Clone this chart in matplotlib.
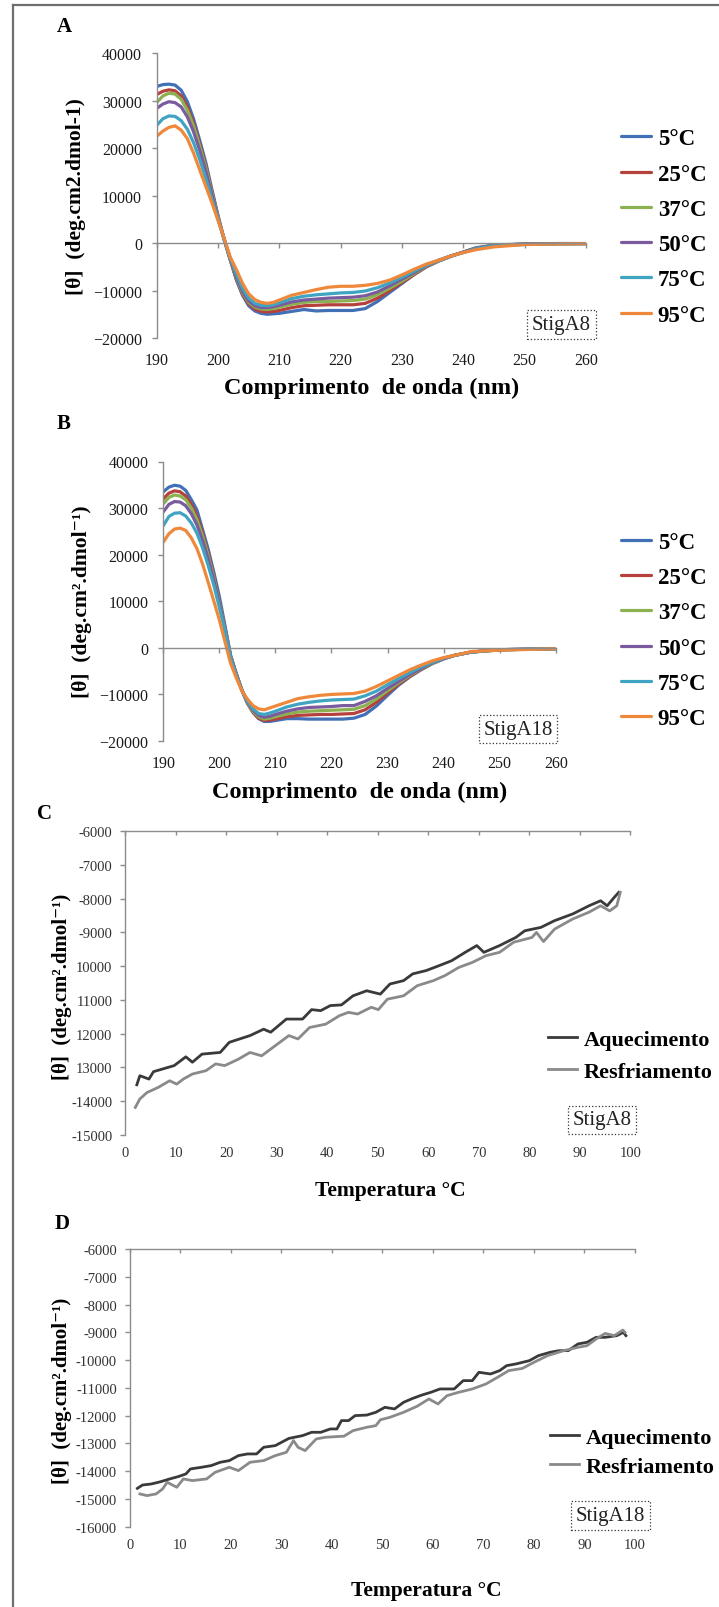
# CD spectra (A, B) and thermal melt curves (C, D) for StigA8 / StigA18
import matplotlib
matplotlib.use('Agg')
import matplotlib.pyplot as plt
from matplotlib.lines import Line2D

plt.rcParams['font.family'] = ['Liberation Serif', 'DejaVu Serif']

# ---- data ----
wl = [190, 191, 192, 193, 194, 195, 196, 197, 198, 199, 200, 201, 202, 203, 204,
      205, 206, 207, 208, 209, 210, 212, 214, 216, 218, 220, 222, 224, 226, 228,
      230, 232, 234, 236, 238, 240, 242, 245, 250, 255, 260]
temps = ['5°C', '25°C', '37°C', '50°C', '75°C', '95°C']
cd_colors = ['#4270b6', '#b5413d', '#8cb150', '#7a5b9d', '#3fa4c1', '#ef883a']

a8_5 = [33000, 33400, 33500, 33300, 32200, 29800, 26200, 21700, 17000, 11300, 5800, 700, -3600, -7800, -11000,
        -13200, -14300, -14800, -15000, -14900, -14800, -14400, -14000, -14300, -14200, -14200, -14200, -13800, -12300, -10400,
        -8500, -6600, -5000, -3800, -2800, -1900, -1000, -400, -200, -100, -100]
a8_25 = [31300, 32000, 32300, 32100, 31000, 28700, 25300, 21000, 16300, 10900, 5500, 800, -3500, -7600, -10800,
         -12800, -13900, -14400, -14500, -14400, -14200, -13600, -13200, -13100, -13000, -13000, -13000, -12700, -11600, -10000,
         -8300, -6600, -4900, -3700, -2700, -1900, -1100, -500, -200, -100, -100]
a8_37 = [29600, 31000, 31600, 31400, 30300, 28000, 24700, 20500, 15900, 10600, 5400, 800, -3400, -7400, -10500,
         -12500, -13500, -13900, -14000, -13800, -13500, -12900, -12500, -12300, -12300, -12200, -12100, -11800, -10900, -9500,
         -8000, -6400, -4800, -3700, -2700, -1900, -1100, -500, -200, -100, -100]
a8_50 = [28400, 29300, 29800, 29600, 28700, 26600, 23500, 19600, 15200, 10200, 5200, 800, -3300, -7200, -10200,
         -12200, -13200, -13600, -13600, -13400, -13100, -12400, -12000, -11800, -11600, -11500, -11400, -11100, -10300, -9000,
         -7600, -6200, -4700, -3600, -2700, -1900, -1100, -500, -200, -100, -100]
a8_75 = [24800, 26200, 26800, 26700, 25800, 24000, 21200, 17700, 13700, 9300, 4900, 800, -3200, -6600, -9600,
         -11600, -12700, -13100, -13200, -13000, -12600, -11700, -11200, -10900, -10700, -10500, -10400, -10100, -9400, -8400,
         -7200, -5900, -4600, -3600, -2700, -2000, -1200, -600, -300, -200, -100]
a8_95 = [22500, 23600, 24400, 24700, 23800, 22000, 19000, 15500, 12000, 8500, 4800, 1000, -3000, -5600, -8500,
         -10700, -11900, -12500, -12700, -12500, -12000, -11000, -10400, -9800, -9300, -9100, -9100, -8900, -8500, -7800,
         -6700, -5500, -4400, -3600, -2700, -2000, -1400, -800, -300, -200, -100]

a18_5 = [33500, 34500, 34900, 34700, 33800, 31800, 29600, 25400, 21200, 16300, 11000, 4800, -1600, -5500, -9000,
         -11800, -13800, -15200, -15800, -15800, -15600, -15200, -15200, -15300, -15300, -15300, -15300, -15100, -14300, -12500,
         -10200, -8000, -6200, -4700, -3400, -2400, -1600, -900, -400, -300, -200]
a18_25 = [32000, 33200, 33700, 33500, 32600, 30800, 28300, 24600, 20300, 15500, 9900, 4300, -1700, -5500, -9000,
          -11900, -13900, -15100, -15600, -15500, -15300, -14800, -14500, -14400, -14300, -14300, -14200, -14100, -13300, -11700,
          -9700, -7800, -6100, -4600, -3300, -2300, -1600, -900, -400, -300, -200]
a18_37 = [30900, 32300, 32800, 32600, 31800, 30000, 27500, 24000, 19800, 15100, 9700, 4200, -1800, -5600, -9000,
          -11800, -13700, -14800, -15300, -15100, -14800, -14200, -13800, -13600, -13500, -13400, -13300, -13200, -12400, -11000,
          -9200, -7500, -5900, -4500, -3300, -2300, -1600, -900, -400, -300, -200]
a18_50 = [29200, 30800, 31400, 31300, 30500, 28800, 26400, 23100, 19100, 14600, 9400, 4100, -1900, -5700, -9000,
          -11600, -13400, -14500, -14900, -14700, -14300, -13600, -13100, -12800, -12700, -12600, -12400, -12400, -11500, -10300,
          -8700, -7200, -5700, -4400, -3200, -2300, -1600, -900, -400, -300, -200]
a18_75 = [26200, 28200, 28900, 29000, 28300, 26800, 24600, 21500, 17700, 13500, 8700, 3800, -2200, -5900, -9100,
          -11400, -13100, -14100, -14300, -14000, -13600, -12700, -12100, -11700, -11400, -11200, -11100, -11000, -10300, -9300,
          -7900, -6600, -5300, -4100, -3100, -2200, -1600, -900, -450, -300, -200]
a18_95 = [22700, 24500, 25500, 25700, 25200, 23600, 21300, 18000, 14100, 10100, 6000, 1300, -3300, -6400, -9200,
          -11000, -12400, -13100, -13300, -12900, -12500, -11700, -10900, -10500, -10200, -10000, -9900, -9800, -9300, -8300,
          -7100, -5900, -4700, -3700, -2800, -2100, -1600, -800, -500, -350, -200]

# thermal melt, StigA8 (222 nm)
c_heat_t = [2.3, 2.9, 4.7, 5.6, 9.7, 12, 13.3, 15.2, 18.8, 20.6, 24.7, 27.4, 28.8, 31.9, 35.1, 36.9, 38.7,
            40.6, 42.8, 45.1, 47.8, 50.5, 52.4, 55.1, 56.9, 59.6, 62.4, 64.6, 67.3, 69.6, 71, 74.1, 77.3,
            79.1, 82.3, 85, 88.6, 91.8, 94.1, 95.4, 96.8, 97.7]
c_heat = [-13520, -13250, -13350, -13130, -12950, -12690, -12850, -12610, -12560, -12260, -12060, -11870,
          -11960, -11570, -11570, -11290, -11320, -11170, -11150, -10880, -10730, -10830, -10530, -10430,
          -10230, -10130, -9970, -9840, -9590, -9390, -9590, -9390, -9150, -8950, -8850, -8650, -8450,
          -8210, -8060, -8210, -7960, -7810]
c_cool_t = [2, 2.9, 4.3, 6.5, 8.8, 10.2, 11.5, 13.3, 16, 17.9, 19.7, 22.4, 24.7, 27, 29.7, 32.4, 34.2,
            36.5, 39.7, 42.4, 44.2, 46, 48.7, 50.1, 51.9, 55.1, 57.8, 61, 63.3, 66, 68.7, 71.4, 74.1,
            76.9, 80.5, 81.4, 82.8, 85, 88.6, 91.8, 94.1, 95.9, 97.3, 98]
c_cool = [-14190, -13940, -13750, -13600, -13400, -13500, -13350, -13200, -13100, -12900, -12950, -12760,
          -12560, -12660, -12360, -12060, -12160, -11820, -11720, -11470, -11370, -11420, -11220, -11290,
          -10980, -10880, -10580, -10430, -10280, -10040, -9890, -9690, -9590, -9290, -9150, -9000, -9270,
          -8900, -8600, -8400, -8210, -8360, -8210, -7810]

# thermal melt, StigA18 (222 nm)
d_heat_t = [1.5, 2.5, 4.3, 6.1, 7.9, 9.7, 11.1, 12, 14.2, 16.1, 17.9, 19.7, 21.5, 23.3, 25.1, 26.5, 28.8,
            31.5, 34.2, 36, 37.8, 39.7, 41, 41.9, 43.3, 44.6, 46.9, 48.7, 50.5, 52.4, 54.2, 56, 57.8, 59.6,
            61.4, 64.2, 66, 67.8, 69.1, 71.4, 73.2, 74.6, 76.4, 79.1, 80.9, 83.2, 85, 86.8, 88.7, 90.5,
            92.3, 94.1, 96.4, 97.7, 98.2]
d_heat = [-14620, -14500, -14460, -14380, -14280, -14190, -14100, -13920, -13860, -13800, -13680, -13620,
          -13440, -13380, -13380, -13140, -13080, -12820, -12720, -12600, -12600, -12480, -12480, -12180,
          -12180, -12000, -11980, -11880, -11700, -11760, -11520, -11380, -11260, -11160, -11040, -11040,
          -10740, -10740, -10440, -10500, -10380, -10200, -10140, -10020, -9840, -9720, -9660, -9660,
          -9420, -9360, -9180, -9180, -9120, -9000, -9120]
d_cool_t = [2, 3.4, 5.2, 6.5, 7.4, 9.3, 10.6, 12.4, 15.2, 16.9, 19.7, 21.5, 23.8, 26.5, 28.8, 31, 32.4,
            33.3, 34.7, 36.9, 38.7, 42.4, 44.2, 46.9, 48.7, 49.6, 51.5, 54.2, 56.9, 59.2, 61, 62.8, 65.1,
            67.8, 70.5, 72.8, 75, 77.7, 80, 82.7, 85.9, 88.7, 90.5, 92.3, 94.1, 95.9, 97.6, 98]
d_cool = [-14820, -14880, -14820, -14640, -14400, -14580, -14280, -14340, -14280, -14040, -13860, -13980,
          -13680, -13620, -13440, -13320, -12900, -13140, -13260, -12840, -12780, -12740, -12540, -12420,
          -12360, -12150, -12060, -11880, -11660, -11400, -11580, -11280, -11160, -11040, -10860, -10620,
          -10380, -10300, -10080, -9840, -9660, -9540, -9480, -9240, -9040, -9120, -8920, -9000]

melt_labels = ['Aquecimento', 'Resfriamento']
melt_colors = ['#3a3a3a', '#8a8a8a']

W, H = 719, 1608
fig = plt.figure(figsize=(W / 100, H / 100), dpi=100)


def rect(x0, y0, x1, y1):
    return [x0 / W, 1 - y1 / H, (x1 - x0) / W, (y1 - y0) / H]


def ftext(x, y, s, **kw):
    fig.text(x / W, 1 - y / H, s, ha='center', va='center', **kw)


def stig_box(x, y, s):
    ftext(x, y, s, fontsize=15, color='#222222',
          bbox=dict(boxstyle='square,pad=0.22', fc='white', ec='#333333', ls=':', lw=0.9))


def cd_panel(box, series, tpad, leg_y):
    ax = fig.add_axes(rect(*box))
    for vals, lab, col in zip(series, temps, cd_colors):
        ax.plot(wl, vals, color=col, lw=2.3, label=lab, solid_capstyle='round')
    ax.set_xlim(190, 260)
    ax.set_ylim(-20000, 40000)
    ax.set_yticks(range(-20000, 40001, 10000))
    ax.set_xticks(range(190, 261, 10))
    for s in ['top', 'right']:
        ax.spines[s].set_visible(False)
    ax.spines['bottom'].set_position(('data', 0))
    for s in ['left', 'bottom']:
        ax.spines[s].set_color('#8c8c8c')
        ax.spines[s].set_linewidth(1.0)
    ax.tick_params(axis='y', direction='out', length=3.6, width=1, color='#8c8c8c',
                   labelsize=11.5, labelcolor='#1a1a1a', pad=7)
    ax.tick_params(axis='x', direction='out', length=3.6, width=1, color='#8c8c8c',
                   labelbottom=False)
    sec = ax.secondary_xaxis('bottom')
    sec.set_xticks(range(190, 261, 10))
    sec.spines['bottom'].set_visible(False)
    sec.tick_params(length=0, pad=tpad, labelsize=11.5, labelcolor='#1a1a1a')
    fig.legend(loc='center left', bbox_to_anchor=(621 / W, 1 - leg_y / H), frameon=False,
               handles=ax.get_lines(), prop={'weight': 'bold', 'size': 16.5},
               handlelength=1.3, handletextpad=0.3, labelspacing=0.62, borderpad=0, borderaxespad=0)
    return ax


def melt_panel(box, curves, ylo, ylabels, leg_x, leg_y, spacing):
    ax = fig.add_axes(rect(*box))
    for (t, v), lab, col in zip(curves, melt_labels, melt_colors):
        ax.plot(t, v, color=col, lw=2.0, label=lab)
    ax.set_xlim(0, 100)
    ax.set_ylim(ylo, -6000)
    ax.set_xticks(range(0, 101, 10))
    ax.set_yticks(range(ylo, -5999, 1000))
    ax.set_yticklabels(ylabels)
    for s in ['bottom', 'right']:
        ax.spines[s].set_visible(False)
    for s in ['left', 'top']:
        ax.spines[s].set_color('#8c8c8c')
        ax.spines[s].set_linewidth(1.0)
    ax.tick_params(axis='y', direction='out', length=3.3, width=1, color='#8c8c8c',
                   labelsize=10.5, labelcolor='#333333', pad=6)
    ax.tick_params(axis='x', direction='in', top=True, bottom=False, labeltop=False,
                   labelbottom=True, length=3, width=1, color='#8c8c8c',
                   labelsize=10.5, labelcolor='#333333', pad=8)
    fig.legend(loc='center left', bbox_to_anchor=(leg_x / W, 1 - leg_y / H), frameon=False,
               handles=ax.get_lines(), prop={'weight': 'bold', 'size': 16},
               handlelength=1.3, handletextpad=0.3, labelspacing=spacing, borderpad=0, borderaxespad=0)
    return ax


# A
cd_panel((156.7, 54.3, 586, 339), [a8_5, a8_25, a8_37, a8_50, a8_75, a8_95], 10, 228)
ftext(64, 27, 'A', fontsize=15, fontweight='bold')
ftext(75.6, 197, '[θ]  (deg.cm2.dmol-1)', fontsize=15.5, fontweight='bold', rotation=90)
ftext(372, 388, 'Comprimento  de onda (nm)', fontsize=17.5, fontweight='bold')
stig_box(561.5, 325.5, 'StigA8')

# B
cd_panel((163.3, 462.5, 555.7, 742), [a18_5, a18_25, a18_37, a18_50, a18_75, a18_95], 10, 631.5)
ftext(64, 424, 'B', fontsize=15, fontweight='bold')
ftext(81.6, 602, '[θ]  (deg.cm².dmol⁻¹)', fontsize=15.5, fontweight='bold', rotation=90)
ftext(360, 792.7, 'Comprimento  de onda (nm)', fontsize=17.5, fontweight='bold')
stig_box(518, 730, 'StigA18')

# C
c_ylabels = ['-15000', '-14000', '13000', '12000', '11000', '10000', '-9000', '-8000', '-7000', '-6000']
melt_panel((125.2, 832.3, 630.4, 1135.7), [(c_heat_t, c_heat), (c_cool_t, c_cool)], -15000,
           c_ylabels, 548, 1056.5, 0.5)
ftext(44.5, 814, 'C', fontsize=15, fontweight='bold')
ftext(62, 987, '[θ]  (deg.cm².dmol⁻¹)', fontsize=15, fontweight='bold', rotation=90)
ftext(390, 1191, 'Temperatura °C', fontsize=15.5, fontweight='bold')
stig_box(602, 1121, 'StigA8')

# D
d_ylabels = [str(v) for v in range(-16000, -5999, 1000)]
melt_panel((129.8, 1250, 635, 1527.7), [(d_heat_t, d_heat), (d_cool_t, d_cool)], -16000,
           d_ylabels, 550, 1453, 0.4)
ftext(62, 1224, 'D', fontsize=15, fontweight='bold')
ftext(62, 1391, '[θ]  (deg.cm².dmol⁻¹)', fontsize=15, fontweight='bold', rotation=90)
ftext(426, 1590.7, 'Temperatura °C', fontsize=15.5, fontweight='bold')
stig_box(610.5, 1516.5, 'StigA18')

# outer frame (left and top edges)
fig.add_artist(Line2D([12.7 / W, 12.7 / W], [0, 1 - 6 / H], color='#6e6e6e', lw=1.6,
                      transform=fig.transFigure))
fig.add_artist(Line2D([12.7 / W, 1], [1 - 6 / H, 1 - 6 / H], color='#6e6e6e', lw=1.6,
                      transform=fig.transFigure))

fig.savefig('out.png', dpi=100)
